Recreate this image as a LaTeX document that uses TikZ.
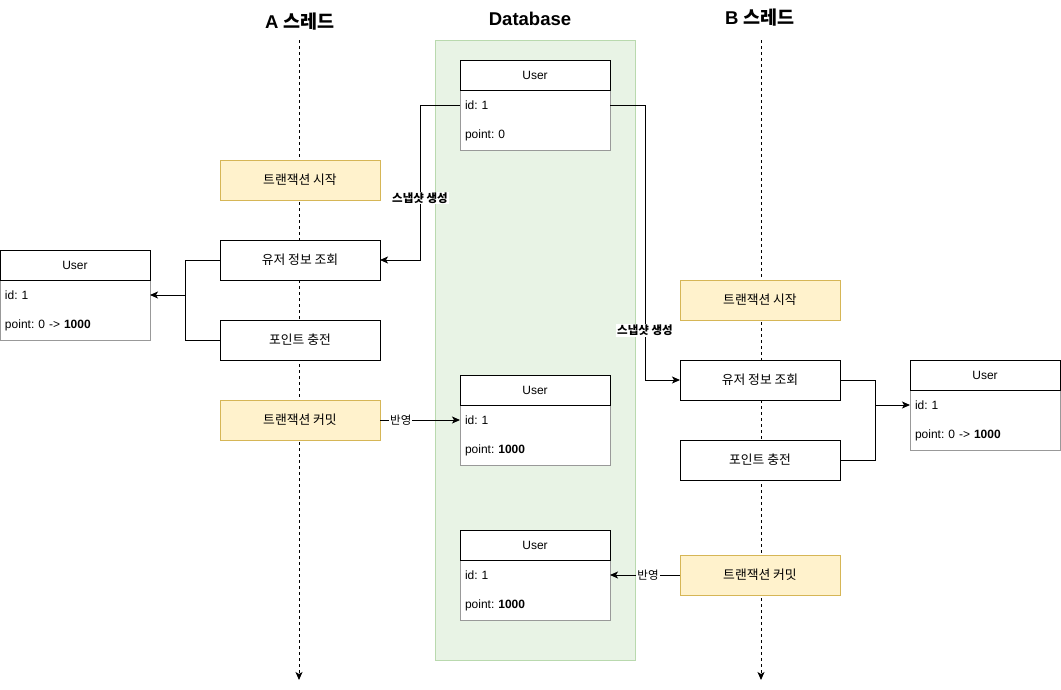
\documentclass[tikz,border=0pt]{standalone}
\usepackage{fontspec}
\setmainfont{Liberation Sans}
\newfontfamily\kr{Noto Sans CJK KR}
\usetikzlibrary{arrows.meta}
\definecolor{yfill}{HTML}{FFF2CC}
\definecolor{ydraw}{HTML}{D6B656}
\definecolor{gfill}{HTML}{E8F3E5}
\definecolor{gdraw}{HTML}{B9D9AE}
\definecolor{tgray}{HTML}{999999}
\frenchspacing
\newcommand\fsz[1]{\fontsize{#1}{#1}\selectfont}
\newcommand\usertable[4]{%
  \node[tbody] (#1b) at (#2,#3+30) {};
  \node[thead] (#1h) at (#2,#3) {User};
  \node[trow] (#1id) at (#1h.south west) {id: 1};
  \node[trow] (#1pt) at (#1id.south west) {#4};
}
\begin{document}
\begin{tikzpicture}[x=1pt,y=-1pt,line width=1pt,
  every node/.style={outer sep=0pt},
  box/.style={draw, fill=white, minimum width=160pt, minimum height=40pt, inner sep=0pt, font=\kr\fsz{12.8}},
  ybox/.style={box, fill=yfill, draw=ydraw},
  thead/.style={draw, fill=white, minimum width=150pt, minimum height=30pt, inner sep=0pt, anchor=north west, font=\fsz{12}},
  tbody/.style={draw=tgray, fill=white, minimum width=150pt, minimum height=60pt, inner sep=0pt, anchor=north west},
  trow/.style={minimum width=150pt, minimum height=30pt, text width=140pt, inner xsep=5pt, inner ysep=0pt, align=left, anchor=north west, font=\fsz{12}},
  arr/.style={-{Stealth[length=8pt,width=7pt,inset=2pt]}},
  life/.style={dash pattern=on 3pt off 3pt, -{Stealth[length=8pt,width=7pt,inset=2pt]}},
  title/.style={font=\bfseries\fsz{18.5}},
  snap/.style={fill=white, inner sep=1pt, font=\kr\bfseries\fsz{11.5}},
  refl/.style={fill=white, inner sep=1pt, font=\kr\fsz{11.5}}
]
\useasboundingbox (0,0) rectangle (1061,689);

% titles
\node[title] (aT) at (300,22) {A {\kr 스레드}};
\node[title] (dT) at (530,19) {Database};
\node[title] (bT) at (760,18) {B {\kr 스레드}};

% lifelines
\coordinate (aTop) at (299,40);
\coordinate (aBot) at (299,680);
\coordinate (bTop) at (761,40);
\coordinate (bBot) at (761,680);
\draw[life] (aTop) -- (aBot);
\draw[life] (bTop) -- (bBot);

% database
\node[draw=gdraw, fill=gfill, minimum width=200pt, minimum height=620pt, inner sep=0pt, anchor=north west] (db) at (435,40) {};

\usertable{t1}{460}{60}{point: 0}
\usertable{t2}{460}{375}{point: \textbf{1000}}
\usertable{t3}{460}{530}{point: \textbf{1000}}

% A thread
\node[ybox] (aStart) at (300,180) {트랜잭션 시작};
\node[box] (aRead) at (300,260) {유저 정보 조회};
\node[box] (aCharge) at (300,340) {포인트 충전};
\node[ybox] (aCommit) at (300,420) {트랜잭션 커밋};
\usertable{lu}{0}{250}{point: 0 -> \textbf{1000}}

% B thread
\node[ybox] (bStart) at (760,300) {트랜잭션 시작};
\node[box] (bRead) at (760,380) {유저 정보 조회};
\node[box] (bCharge) at (760,460) {포인트 충전};
\node[ybox] (bCommit) at (760,575) {트랜잭션 커밋};
\usertable{ru}{910}{360}{point: 0 -> \textbf{1000}}

% connectors
\draw[arr] (t1id.west) -- ++(-40,0) |- node[snap, pos=0.3] {스냅샷 생성} (aRead.east);
\draw[arr] (t1id.east) -- ++(35,0) |- node[snap, pos=0.41] {스냅샷 생성} (bRead.west);

\coordinate (aj) at (185,295);
\draw (aRead.west) -- ++(-35,0) |- (aCharge.west);
\draw[arr] (aj) -- (luid.east);

\coordinate (bj) at (875,405);
\draw (bRead.east) -- ++(35,0) |- (bCharge.east);
\draw[arr] (bj) -- (ruid.west);

\draw[arr] (aCommit.east) -- node[refl, pos=0.26] {반영} (t2id.west);
\draw[arr] (bCommit.west) -- node[refl, pos=0.457] {반영} (t3id.east);
\end{tikzpicture}
\end{document}
